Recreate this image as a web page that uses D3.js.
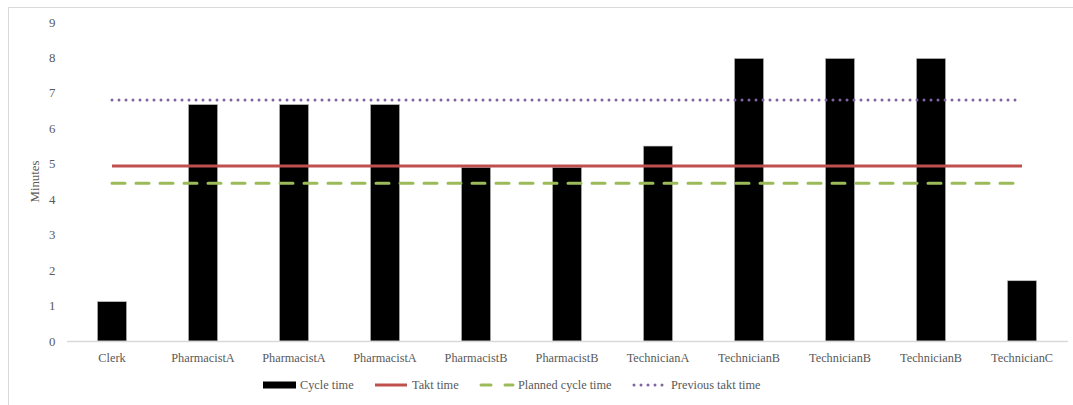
<!DOCTYPE html>
<html>
<head>
<meta charset="utf-8">
<script src="https://cdn.jsdelivr.net/npm/d3@7"></script>
<style>
  html, body { margin: 0; padding: 0; background: #fff; }
</style>
</head>
<body>
<svg id="chart" width="1073" height="405"></svg>
<script>
// Workstation cycle times against takt targets (minutes)
const categories = ["Clerk", "PharmacistA", "PharmacistA", "PharmacistA", "PharmacistB",
  "PharmacistB", "TechnicianA", "TechnicianB", "TechnicianB", "TechnicianB", "TechnicianC"];
const cycleTime = [1.11, 6.67, 6.67, 6.67, 4.9, 4.9, 5.5, 7.97, 7.97, 7.97, 1.7];
const taktTime = 4.94;
const plannedCycleTime = 4.45;
const previousTaktTime = 6.8;
const yTicks = [0, 1, 2, 3, 4, 5, 6, 7, 8, 9];

const FONT = "'Liberation Serif', 'Times New Roman', serif";
const FONT_SIZE = 12.3;
const TEXT = "#595959";

const svg = d3.select("#chart");

// outer chart frame
svg.append("rect")
  .attr("x", 8.5).attr("y", 7.5)
  .attr("width", 1080).attr("height", 420)
  .attr("fill", "none").attr("stroke", "#d9d9d9").attr("stroke-width", 1);

const plot = { left: 66.5, right: 1067.5, top: 22, bottom: 341 };

const idx = categories.map((_, i) => i);
const x = d3.scaleBand().domain(idx).range([plot.left, plot.right]).paddingInner(0).paddingOuter(0);
const y = d3.scaleLinear().domain([0, 9]).range([plot.bottom, plot.top]);

const barW = x.bandwidth() * 0.32;
const cx = i => x(i) + x.bandwidth() / 2;

// bars
svg.append("g").selectAll("rect")
  .data(cycleTime)
  .join("rect")
  .attr("x", (d, i) => cx(i) - barW / 2)
  .attr("y", d => y(d))
  .attr("width", barW)
  .attr("height", d => y(0) - y(d))
  .attr("fill", "#000")
  .attr("stroke", "#bfbfbf")
  .attr("stroke-width", 0.6);

// category axis
const xAxis = svg.append("g")
  .attr("transform", `translate(0,${y(0)})`)
  .call(d3.axisBottom(x).tickSize(0).tickPadding(12).tickFormat(i => categories[i]));
xAxis.attr("font-family", FONT).attr("font-size", FONT_SIZE);
xAxis.select(".domain").attr("stroke", "#d9d9d9").attr("stroke-width", 1.3);
xAxis.selectAll("text").attr("fill", TEXT);

// value axis (labels only)
const yAxis = svg.append("g")
  .attr("transform", `translate(${plot.left},0)`)
  .call(d3.axisLeft(y).tickValues(yTicks).tickSize(0).tickPadding(11).tickFormat(d3.format("d")));
yAxis.attr("font-family", FONT).attr("font-size", FONT_SIZE + 0.5);
yAxis.select(".domain").remove();
yAxis.selectAll("text").attr("fill", TEXT);

svg.append("text")
  .attr("transform", `translate(39,${(plot.top + plot.bottom) / 2}) rotate(-90)`)
  .attr("text-anchor", "middle")
  .attr("font-family", FONT)
  .attr("font-size", FONT_SIZE + 0.5)
  .attr("fill", TEXT)
  .text("Minutes");

// reference lines spanning first to last category
const x0 = cx(0), x1 = cx(categories.length - 1);
const refLines = [
  { v: taktTime, color: "#c0504d", dash: null, legendDash: null, width: 3, cap: "butt" },
  { v: plannedCycleTime, color: "#9bbb59", dash: "13,11", legendDash: "10,14", width: 3, cap: "round" },
  { v: previousTaktTime, color: "#8064a2", dash: "0,7", legendDash: "0,7", width: 3, cap: "round" }
];
svg.append("g").selectAll("line")
  .data(refLines)
  .join("line")
  .attr("x1", x0).attr("x2", x1)
  .attr("y1", d => y(d.v)).attr("y2", d => y(d.v))
  .attr("stroke", d => d.color)
  .attr("stroke-width", d => d.width)
  .attr("stroke-linecap", d => d.cap)
  .attr("stroke-dasharray", d => d.dash);

// legend
const legendY = 385;
const legend = svg.append("g");
const items = [
  { label: "Cycle time", type: "bar", x: 263 },
  { label: "Takt time", type: "line", x: 375, line: refLines[0] },
  { label: "Planned cycle time", type: "line", x: 481, line: refLines[1] },
  { label: "Previous takt time", type: "line", x: 634, line: refLines[2] }
];
items.forEach(it => {
  if (it.type === "bar") {
    legend.append("rect").attr("x", it.x).attr("y", legendY - 3.5).attr("width", 33).attr("height", 7).attr("fill", "#000");
  } else {
    legend.append("line")
      .attr("x1", it.x).attr("x2", it.x + 32)
      .attr("y1", legendY).attr("y2", legendY)
      .attr("stroke", it.line.color).attr("stroke-width", it.line.width)
      .attr("stroke-linecap", it.line.cap)
      .attr("stroke-dasharray", it.line.legendDash);
  }
  legend.append("text")
    .attr("x", it.x + 37)
    .attr("y", legendY + 4.3)
    .attr("font-family", FONT)
    .attr("font-size", FONT_SIZE)
    .attr("fill", TEXT)
    .text(it.label);
});
</script>
</body>
</html>
